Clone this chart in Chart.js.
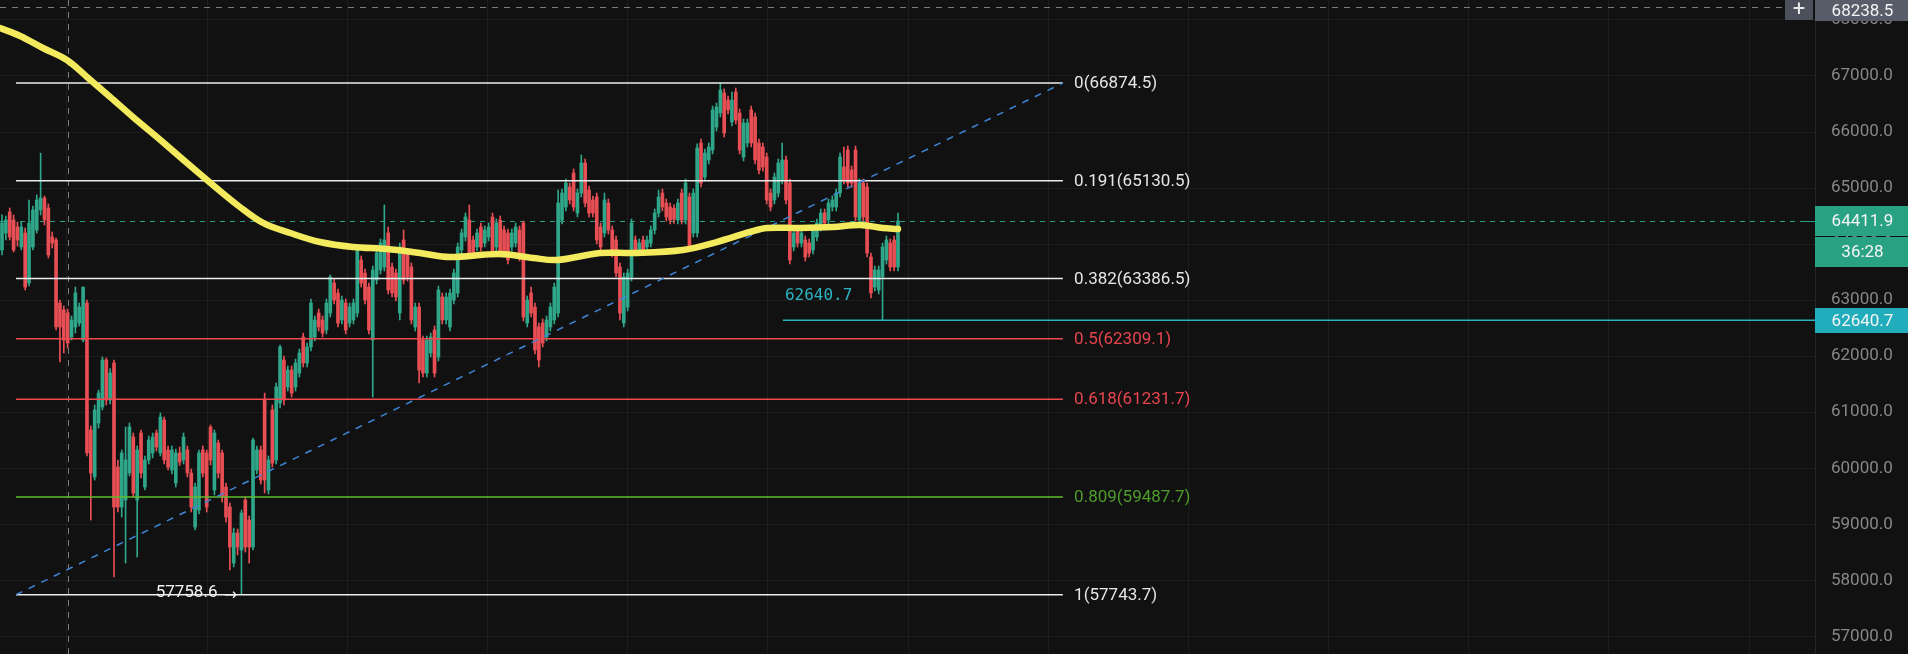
<!DOCTYPE html>
<html>
<head>
<meta charset="utf-8">
<script src="https://cdn.jsdelivr.net/npm/chart.js@4.4.1/dist/chart.umd.min.js"></script>
<style>
  html, body { margin: 0; padding: 0; background: #111111; }
  #wrap { width: 1908px; height: 654px; }
</style>
</head>
<body>
<div id="wrap"><canvas id="chart"></canvas></div>
<script>
// Свечи (OHLC)
const opens = [
  63895, 64198, 64573, 64430, 64305, 63948, 64198, 63305, 63948, 64252,
  64609, 64822, 64644, 64127, 64073, 62948, 62824, 62770, 62342, 62521,
  62592, 62289, 62948, 60683, 59844, 60807, 61093, 61932, 61218,
  61878, 60022, 59308, 59433, 59915, 60558, 59433, 60629, 59665, 60147,
  60272, 60629, 60272, 60861, 60326, 59969, 59736, 60272,
  60147, 60326, 59915, 58951, 59255, 60326, 60272, 60736, 59612, 60450,
  60272, 59665, 59308, 58309, 58844, 58541, 59433, 59076, 58594, 59969,
  60326, 61218, 59612, 61040, 60147, 61164, 61932, 61450, 61753, 61450,
  61699, 62342, 61878, 62164, 62342, 62770, 62646, 62467, 62770, 63305,
  63127, 62646, 62948, 62592, 62646, 62770, 63716, 63484, 63234, 62289,
  63359, 63538, 63591, 64198, 63591, 63484, 62770, 64073, 63841, 63591,
  62521, 62877, 62289, 61699, 62056, 62467, 61985, 63056, 62646, 62521,
  63002, 63127, 63895, 64127, 64430, 64073, 63948, 64305, 64019, 64127,
  64484, 63948, 64430, 64252, 64198, 63948, 64019, 64252, 64376, 62592,
  63127, 62877, 62521, 62592, 62342, 62521, 62646, 62770, 64430, 64662,
  65019, 65268, 64555, 64911, 65447, 64965, 64787, 64840, 64305, 64198,
  64733, 64252, 64073, 63591, 62592, 62877, 63413, 64073, 63895, 64073,
  63948, 64019, 64252, 64555, 64911, 64733, 64662, 64640, 64430, 64911,
  64430, 64840, 64198, 64198, 65804, 65197, 65501, 65679, 66089, 66339,
  66696, 66571, 66179, 66714, 66339, 65554, 65804, 66393,
  66268, 65804, 65733, 65554, 64911, 64787, 64911, 65144, 65501,
  65090, 63948, 64252, 64019,
  64073, 64019, 63895, 64127, 64305, 64555,
  64430, 64662, 64662, 64911, 65376, 65679, 65322, 65679, 64430, 65090,
  65019, 63770, 63234, 63181, 63413, 63716, 64019,
  64073, 63591
];
const highs = [
  64520, 64502, 64644, 64520, 64394, 64394, 64287, 64787, 64680, 64876,
  65625, 64858, 64716, 64216, 64109, 63002, 62895, 62841, 62717, 63234,
  62948, 63234, 63002, 60754, 61129, 61396, 61985, 61967, 61780,
  61932, 60147, 60326, 60736, 60807, 60629, 60397, 60683, 60219, 60576,
  60629, 60683, 60986, 60915, 60397, 60397, 60343, 60380,
  60629, 60397, 59986, 59736, 60326, 60397, 60326, 60772, 60683, 60504,
  60326, 59737, 59379, 58933, 58915, 59255, 59487, 59148, 60540, 60397,
  60397, 61342, 60219, 61129, 61521, 62200, 62003, 61825, 61825, 61949,
  62128, 62413, 62235, 63020, 62717, 62841, 62717, 63020, 63449, 63377,
  63198, 63074, 63020, 62948, 63020, 63966, 63788, 63555, 63305, 63609,
  63912, 64091, 64698, 64305, 63662, 63555, 64019, 64252, 63912, 63662,
  62948, 62948, 62360, 62360, 62413, 62539, 63252, 63127, 63127, 63198,
  63555, 64019, 64269, 64555, 64698, 64145, 64269, 64376, 64323, 64376,
  64555, 64448, 64502, 64323, 64269, 64269, 64376, 64323, 64412, 63074,
  63234, 62948, 62592, 62663, 62717, 62948, 63305, 64965, 64983, 65161,
  65090, 65340, 64983, 65590, 65518, 65037, 64858, 64911, 64376, 64911,
  64805, 64323, 64145, 63662, 63484, 63555, 64448, 64145, 64091, 64145,
  64145, 64323, 64626, 64965, 64983, 64805, 64733, 64700, 64805, 64983,
  65161, 64911, 64983, 65787, 65876, 65697, 65804, 66464, 66517, 66874.5,
  66768, 66642, 66714, 66785, 66411, 66232, 66232, 66464,
  66339, 65876, 65804, 65625, 64983, 65268, 65518, 65804, 65572,
  65161, 64269, 64323, 64269,
  64145, 64091, 64323, 64448, 64626, 64626,
  64805, 64858, 64983, 65625, 65733, 65751, 65394, 65751, 65161, 65161,
  65090, 63841, 63609, 63609, 64019, 64145, 64091,
  64145, 64555
];
const lows = [
  63806, 64073, 64073, 63859, 63966, 63895, 63181, 63252, 63895, 64198,
  64520, 64341, 63752, 63930, 62467, 61896, 62056, 62146, 62289, 62413,
  62539, 62253, 60219, 59076, 59790, 60718, 61040, 61129, 61150,
  58059, 59219, 59130, 58309, 59862, 59487, 58416, 59826, 59612, 60076,
  60183, 60308, 60219, 60076, 59969, 59898, 59665, 60050,
  60076, 59844, 59219, 58898, 59184, 59844, 59219, 60058, 59523, 59826,
  59397, 59040, 58184, 58238, 58452, 57758.6, 58505, 58309, 58541, 59898,
  59719, 59558, 59541, 60022, 60076, 61075, 61129, 61378, 61271, 61378,
  61628, 61807, 61807, 62092, 62271, 62449, 62342, 62396, 62699, 62931,
  62521, 62575, 62396, 62521, 62575, 62699, 63234, 62931, 62396, 61271,
  63288, 63467, 63520, 63110, 63056, 62984, 62646, 63288, 63341, 62575,
  62449, 61521, 61628, 61628, 61985, 61628, 61914, 62575, 62575, 62449,
  62931, 63056, 63824, 64055, 63770, 63770, 63877, 63877, 63948, 64055,
  63770, 63877, 63770, 63770, 63645, 63877, 63948, 63698, 62628, 62521,
  62699, 62039, 61807, 62164, 62271, 62449, 62575, 62699, 64359, 64591,
  64716, 64591, 64484, 64840, 64662, 64484, 64484, 64002, 63877, 64127,
  64180, 63770, 63413, 62646, 62521, 62806, 63341, 63824, 63824, 63824,
  63877, 63948, 64180, 64484, 64591, 64412, 64359, 64370, 64359, 64359,
  64359, 63877, 64127, 64127, 65019, 65126, 65429, 65608, 66018, 66268,
  65911, 66322, 66107, 66143, 65608, 65483, 65733, 65733,
  65429, 65251, 65304, 64716, 64591, 64716, 64840, 65072, 64716,
  63645, 63877, 63948, 63948,
  63698, 63770, 63824, 64055, 64234, 64305,
  64359, 64591, 64591, 64840, 65072, 65019, 65019, 64412, 64359, 64412,
  63770, 63038, 63163, 63110, 62640.7, 63645, 63520,
  63520, 63520
];
const closes = [
  64376, 64430, 64127, 63895, 64073, 64305, 63234, 64376, 64609, 64787,
  64822, 64430, 63806, 64019, 62521, 62521, 62289, 62235, 62646, 63127,
  62877, 63234, 60272, 59915, 61040, 61342, 61932, 61218, 61700,
  59308, 59308, 60272, 60147, 60736, 59558, 60326, 59915, 60147, 60504,
  60558, 60379, 60915, 60147, 60022, 60326, 60272, 60110,
  60558, 59915, 59308, 59665, 60272, 59915, 59308, 60147, 60629, 59915,
  59487, 59130, 58594, 58844, 58594, 59201, 58594, 58594, 60504, 60326,
  59790, 59790, 60147, 60093, 61450, 62164, 61218, 61753, 61342, 61878,
  62056, 61878, 62164, 62948, 62646, 62521, 62413, 62948, 63413, 63002,
  62592, 63002, 62467, 62877, 62948, 63895, 63305, 63002, 62467, 63538,
  63841, 64019, 64073, 63181, 63127, 63056, 63948, 63359, 63413, 62646,
  62877, 61753, 61699, 62289, 62342, 61699, 63181, 62646, 63056, 63127,
  63484, 63948, 64198, 64484, 63841, 63841, 64198, 63948, 64252, 64305,
  63841, 64376, 63841, 63841, 63716, 64198, 64305, 63770, 62699, 63002,
  62770, 62110, 61932, 62235, 62646, 62877, 63234, 64733, 64911, 65090,
  64787, 64662, 64911, 65447, 64733, 64555, 64555, 64073, 63948, 64787,
  64252, 63841, 63484, 62770, 63413, 63484, 64376, 63895, 64019, 63895,
  64073, 64252, 64555, 64840, 64662, 64484, 64430, 64440, 64733, 64430,
  65090, 63948, 64911, 65715, 65090, 65625, 65733, 66393, 66446, 66750,
  65982, 66393, 66571, 66215, 65679, 66161, 66161, 65804,
  65501, 65322, 65376, 64787, 64662, 65197, 65447, 65501, 64787,
  63716, 64198, 64019, 64198,
  63770, 63841, 64252, 64376, 64555, 64376,
  64733, 64787, 64911, 65554, 65144, 65090, 65090, 64484, 65090, 64484,
  63841, 63127, 63538, 63538, 63948, 64073, 63591,
  63591, 64411.9
];

// Скользящая средняя (жёлтая линия): номер свечи и значение
const maIndex = [-0.5, 4.7, 10.6, 16.8, 22.0, 28.0, 33.9, 40.1, 47.9, 54.6, 61.6, 67.6, 74.6, 82.3, 90.9, 99.7,
  108.2, 116.0, 128.9, 137.5, 143.7, 154.9, 163.4, 176.3, 185.1, 193.7, 198.1, 206.6, 215.2, 222.2, 228.1, 232.0];
const maValues = [67856, 67714, 67499, 67285, 66982, 66625, 66268, 65911, 65447, 65055, 64662, 64377, 64198, 64037, 63948, 63912,
  63841, 63770, 63823, 63752, 63716, 63841, 63841, 63895, 64037, 64216, 64287, 64287, 64305, 64341, 64287, 64269];

// Уровни Фибоначчи
const fibRatios = ['0', '0.191', '0.382', '0.5', '0.618', '0.809', '1'];
const fibPrices = [66874.5, 65130.5, 63386.5, 62309.1, 61231.7, 59487.7, 57743.7];

// Деления шкалы цен
const priceTicks = [57000, 58000, 59000, 60000, 61000, 62000, 63000, 64000, 65000, 66000, 67000, 68000];

// Подписи цен
const lastPrice = 64411.9;
const countdown = '36:28';
const lowMark = 62640.7;
const swingLow = 57758.6;
const crossPrice = 68238.5;

// Цвета
const upColor = '#2fa689';
const downColor = '#e84f55';
const fibLineColors = ['#ececec', '#ececec', '#ececec', '#f04a50', '#f04a50', '#5fbd2c', '#ececec'];
const fibTextColors = ['#e6e6e6', '#e6e6e6', '#e6e6e6', '#e8454f', '#e8454f', '#4e9c2c', '#e6e6e6'];

// Положение рисунков на оси времени (в номерах свечей)
const fibStart = 3.63, fibEnd = 274.7, fibLabelAt = 277.6;
const crossIndex = 17.1;
const lowLineStart = 202.2;
const xMin = -0.518, xMax = 469.44;
const gridStart = 16.8, gridStep = 36.3;

const isUp = opens.map((o, i) => closes[i] >= o);
const candleColors = isUp.map(u => u ? upColor : downColor);
const wickData = opens.map((o, i) => ({ x: i, y: [lows[i], highs[i]] }));
const bodyData = opens.map((o, i) => ({ x: i, y: [Math.min(o, closes[i]), Math.max(o, closes[i])] }));

const datasets = [];

// Свечи
datasets.push({
    type: 'bar', data: wickData, backgroundColor: candleColors,
    barThickness: 1, grouped: false, order: 20
});
datasets.push({
    type: 'bar', data: bodyData, backgroundColor: candleColors,
    barThickness: 3, grouped: false, minBarLength: 1, order: 19
});

// Линии Фибоначчи
fibPrices.forEach((p, i) => {
    datasets.push({
        type: 'line',
        data: [{ x: fibStart, y: p }, { x: fibEnd, y: p }],
        borderColor: fibLineColors[i], borderWidth: 1.5,
        pointRadius: 0, order: 8
    });
});

// Линия минимума 62640.7
datasets.push({
    type: 'line',
    data: [{ x: lowLineStart, y: lowMark }, { x: xMax, y: lowMark }],
    borderColor: '#28b3c2', borderWidth: 1.5, pointRadius: 0, order: 7
});

// Трендовая пунктирная линия
datasets.push({
    type: 'line',
    data: [{ x: fibStart, y: fibPrices[6] }, { x: fibEnd, y: fibPrices[0] }],
    borderColor: '#3f86d6', borderWidth: 1.5, borderDash: [7, 7],
    pointRadius: 0, order: 6
});

// Скользящая средняя
datasets.push({
    type: 'line',
    data: maIndex.map((k, i) => ({ x: k, y: maValues[i] })),
    borderColor: '#f4ea5e', borderWidth: 6.5, tension: 0.35,
    borderCapStyle: 'round', borderJoinStyle: 'round',
    pointRadius: 0, order: 1
});

function drawTag(ctx, left, top, w, h, bg, text) {
    ctx.fillStyle = bg;
    ctx.fillRect(left, top, w, h);
    ctx.fillStyle = '#f4f4f4';
    ctx.font = '17px Roboto';
    ctx.textAlign = 'center';
    ctx.textBaseline = 'middle';
    ctx.fillText(text, left + w / 2 + 1, top + h / 2 + 1);
}

const overlay = {
    id: 'overlay',
    beforeDraw(chart) {
        const { ctx, width, height } = chart;
        ctx.save();
        ctx.fillStyle = '#111111';
        ctx.fillRect(0, 0, width, height);
        ctx.restore();
    },
    beforeDatasetsDraw(chart) {
        const { ctx, chartArea, scales: { x, y } } = chart;
        ctx.save();
        ctx.lineWidth = 1;
        // перекрестие
        ctx.strokeStyle = '#7c7c7c';
        ctx.setLineDash([6, 6]);
        const cx = Math.round(x.getPixelForValue(crossIndex)) + 0.5;
        ctx.beginPath(); ctx.moveTo(cx, chartArea.top); ctx.lineTo(cx, chartArea.bottom); ctx.stroke();
        const cy = Math.round(y.getPixelForValue(crossPrice)) + 0.5;
        ctx.beginPath(); ctx.moveTo(chartArea.left, cy); ctx.lineTo(chartArea.right - 30, cy); ctx.stroke();
        // линия последней цены
        ctx.strokeStyle = '#2a9f84';
        ctx.setLineDash([5, 5]);
        const ly = Math.round(y.getPixelForValue(lastPrice)) + 0.5;
        ctx.beginPath(); ctx.moveTo(chartArea.left, ly); ctx.lineTo(chartArea.right - 14, ly); ctx.stroke();
        ctx.setLineDash([]);
        ctx.beginPath(); ctx.moveTo(chartArea.right - 14, ly); ctx.lineTo(chartArea.right, ly); ctx.stroke();
        ctx.restore();
    },
    afterDraw(chart) {
        const { ctx, chartArea, scales: { x, y } } = chart;
        const axisLeft = chartArea.right;
        const axisW = chart.width - axisLeft;
        ctx.save();

        // подписи уровней Фибоначчи
        ctx.font = '17px Roboto';
        ctx.textAlign = 'left';
        ctx.textBaseline = 'middle';
        const lx = x.getPixelForValue(fibLabelAt);
        fibPrices.forEach((p, i) => {
            ctx.fillStyle = fibTextColors[i];
            ctx.fillText(fibRatios[i] + '(' + p.toFixed(1) + ')', lx, y.getPixelForValue(p) + 1);
        });

        // подпись минимума у свечи
        ctx.font = '16px "DejaVu Sans Mono"';
        ctx.fillStyle = '#2cb4c3';
        ctx.fillText(lowMark.toFixed(1), x.getPixelForValue(lowLineStart) + 2, y.getPixelForValue(lowMark) - 24);

        // подпись нижней точки
        const lowIdx = lows.indexOf(swingLow);
        const px = x.getPixelForValue(lowIdx);
        const py = y.getPixelForValue(fibPrices[6]);
        ctx.font = '17px Roboto';
        ctx.fillStyle = '#f2f2f2';
        ctx.textAlign = 'right';
        ctx.fillText(swingLow.toFixed(1), px - 24, py - 2);
        ctx.font = '16px "DejaVu Sans"';
        ctx.fillText('→', px - 4, py + 1);

        // метки на шкале цен
        const lastY = y.getPixelForValue(lastPrice);
        drawTag(ctx, axisLeft, Math.round(lastY) - 15, axisW, 30, '#28a283', lastPrice.toFixed(1));
        drawTag(ctx, axisLeft, Math.round(lastY) + 16, axisW, 30, '#28a283', countdown);
        const lowY = y.getPixelForValue(lowMark);
        drawTag(ctx, axisLeft, Math.round(lowY) - 12, axisW, 25, '#22adbd', lowMark.toFixed(1));
        drawTag(ctx, axisLeft, 0, axisW, 21, '#585d69', crossPrice.toFixed(1));

        // кнопка "+"
        ctx.fillStyle = '#4b505b';
        ctx.fillRect(axisLeft - 30, 0, 28, 20);
        ctx.fillStyle = '#e8e8e8';
        ctx.font = '22px Roboto';
        ctx.textAlign = 'center';
        ctx.textBaseline = 'middle';
        ctx.fillText('+', axisLeft - 16, 10);
        ctx.restore();
    }
};

Chart.defaults.font.family = 'Roboto';

new Chart(document.getElementById('chart'), {
    type: 'bar',
    data: { datasets: datasets },
    options: {
        responsive: true,
        maintainAspectRatio: false,
        animation: false,
        events: [],
        layout: { padding: 0 },
        plugins: { legend: { display: false }, tooltip: { enabled: false } },
        scales: {
            x: {
                type: 'linear',
                min: xMin,
                max: xMax,
                offset: false,
                grid: { color: '#1d1d1d', drawTicks: false, offset: false },
                border: { display: false },
                ticks: { display: false },
                afterBuildTicks: (scale) => {
                    const t = [];
                    for (let v = gridStart; v < scale.max; v += gridStep) t.push({ value: v });
                    scale.ticks = t;
                },
                afterFit: (scale) => {
                    scale.height = 0;
                    scale.paddingLeft = 0; scale.paddingRight = 0;
                    scale.paddingTop = 0; scale.paddingBottom = 0;
                }
            },
            y: {
                position: 'right',
                min: 56685.5,
                max: 68355.6,
                grid: { color: '#1d1d1d', drawTicks: false },
                border: { display: true, color: '#262626' },
                ticks: {
                    autoSkip: false,
                    padding: 16,
                    color: '#878787',
                    font: { size: 17 },
                    callback: v => v.toFixed(1)
                },
                afterBuildTicks: (scale) => {
                    scale.ticks = priceTicks.map(v => ({ value: v }));
                },
                afterFit: (scale) => {
                    scale.width = 93;
                    scale.paddingTop = 0; scale.paddingBottom = 0;
                    scale.paddingLeft = 0; scale.paddingRight = 0;
                }
            }
        }
    },
    plugins: [overlay]
});
</script>
</body>
</html>
